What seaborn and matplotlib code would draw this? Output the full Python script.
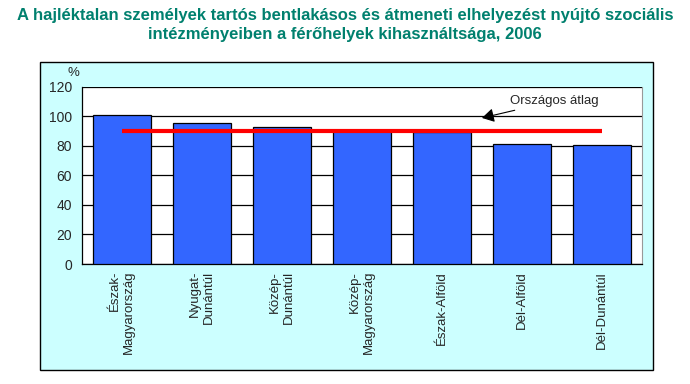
import numpy as np
import matplotlib
matplotlib.use("Agg")
import matplotlib.pyplot as plt
import seaborn as sns
from matplotlib.patches import Rectangle


regions = ["Észak-\nMagyarország", "Nyugat-\nDunántúl", "Közép-\nDunántúl",
           "Közép-\nMagyarország", "Észak-Alföld", "Dél-Alföld", "Dél-Dunántúl"]
occupancy = [101.3, 95.9, 92.6, 90.2, 89.6, 81.2, 80.6]  # %
national_avg = 90.4
yticks = [0, 20, 40, 60, 80, 100, 120]

title = ("A hajléktalan személyek tartós bentlakásos és átmeneti elhelyezést nyújtó szociális\n"
         "intézményeiben a férőhelyek kihasználtsága, 2006")


sns.set_style("white")
plt.rcParams['font.family'] = ['Liberation Sans', 'DejaVu Sans']

fig = plt.figure(figsize=(6.9, 3.84), dpi=100)
fig.patch.set_facecolor("white")

# cyan chart frame
frame = Rectangle((0.058, 0.036), 0.888, 0.803, transform=fig.transFigure,
                  facecolor="#CCFFFF", edgecolor="black", linewidth=1, zorder=-1)
fig.patches.append(frame)

fig.text(0.5, 0.978, title, ha="center", va="top", fontsize=12,
         fontweight="bold", color="#00806E", linespacing=1.3)

ax = fig.add_axes([0.1188, 0.3125, 0.8116, 0.461])
ax.set_zorder(2)
ax.set_facecolor("white")

sns.barplot(x=np.arange(len(regions)), y=occupancy, ax=ax, color="#3366FF",
            saturation=1, edgecolor="black", linewidth=0.9, width=0.72, zorder=3)

ax.plot(np.arange(len(regions)), [national_avg] * len(regions),
        color="#FF0000", linewidth=3, zorder=4, solid_capstyle="butt")

ax.annotate("Országos átlag", xy=(4.5, 99.0), xytext=(4.85, 110.5),
            fontsize=9.5, va="center", ha="left",
            arrowprops=dict(arrowstyle="-|>,head_length=0.6,head_width=0.35",
                            color="black", lw=0.8,
                            mutation_scale=12, shrinkA=0, shrinkB=0))

ax.set_ylim(0, 120)
ax.set_xlim(-0.5, len(regions) - 0.5)
ax.set_yticks(yticks)
ax.set_yticklabels([str(v) for v in yticks], fontsize=10)
ax.yaxis.grid(True, color="black", linewidth=0.9, zorder=1)
ax.set_axisbelow(True)

ax.set_xticks(np.arange(len(regions)))
ax.set_xticklabels(regions, rotation=90, fontsize=9.5, va="top", ha="center",
                   multialignment="right")
ax.set_xticks(np.arange(len(regions) + 1) - 0.5, minor=True)
ax.tick_params(axis="x", which="major", length=0, pad=5)
ax.tick_params(axis="x", which="minor", length=4, width=0.9, color="black", direction="out")
ax.tick_params(axis="y", length=4, width=0.9, color="black", direction="out", pad=3)
ax.set_xlabel("")

for side in ["left", "bottom"]:
    ax.spines[side].set_color("black")
    ax.spines[side].set_linewidth(0.9)
ax.spines["top"].set_visible(False)
ax.spines["right"].set_color("#999999")
ax.spines["right"].set_linewidth(0.8)

fig.text(0.106, 0.81, "%", fontsize=9.5, ha="center", va="center")

fig.savefig("out.png", dpi=100, facecolor="white")
